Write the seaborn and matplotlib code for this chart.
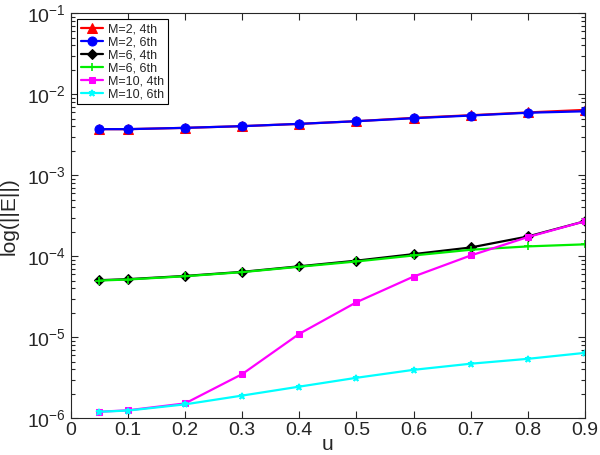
import matplotlib
matplotlib.use("Agg")
import matplotlib.pyplot as plt
import seaborn as sns
import numpy as np
import pandas as pd
from matplotlib.ticker import LogLocator, NullFormatter

u = [0.05, 0.1, 0.2, 0.3, 0.4, 0.5, 0.6, 0.7, 0.8, 0.9]
m2_4th = [3.7e-3, 3.7e-3, 3.84e-3, 4.03e-3, 4.3e-3, 4.64e-3, 5.1e-3, 5.5e-3, 5.95e-3, 6.4e-3]
m2_6th = [3.7e-3, 3.7e-3, 3.84e-3, 4.03e-3, 4.3e-3, 4.64e-3, 5.05e-3, 5.45e-3, 5.9e-3, 6.15e-3]
m6_4th = [5.05e-5, 5.2e-5, 5.7e-5, 6.4e-5, 7.5e-5, 8.8e-5, 1.06e-4, 1.28e-4, 1.75e-4, 2.7e-4]
m6_6th = [5.0e-5, 5.15e-5, 5.65e-5, 6.35e-5, 7.4e-5, 8.6e-5, 1.02e-4, 1.2e-4, 1.32e-4, 1.4e-4]
m10_4th = [1.2e-6, 1.25e-6, 1.52e-6, 3.5e-6, 1.1e-5, 2.7e-5, 5.6e-5, 1.02e-4, 1.72e-4, 2.7e-4]
m10_6th = [1.2e-6, 1.24e-6, 1.48e-6, 1.9e-6, 2.45e-6, 3.15e-6, 3.95e-6, 4.7e-6, 5.4e-6, 6.4e-6]

labels = ["M=2, 4th", "M=2, 6th", "M=6, 4th", "M=6, 6th", "M=10, 4th", "M=10, 6th"]
series = [m2_4th, m2_6th, m6_4th, m6_6th, m10_4th, m10_6th]
colors = ["#ff0000", "#0000ff", "#000000", "#00ee00", "#ff00ff", "#00ffff"]
markers = ["^", "o", "D", "+", "s", "*"]
msizes = [7, 6.5, 5.5, 6, 5, 5]

xticks = [0, 0.1, 0.2, 0.3, 0.4, 0.5, 0.6, 0.7, 0.8, 0.9]
xticklabels = ["0", "0.1", "0.2", "0.3", "0.4", "0.5", "0.6", "0.7", "0.8", "0.9"]

sns.set_style("ticks")
plt.rcParams['font.family'] = ['Liberation Sans', 'DejaVu Sans']

fig = plt.figure(figsize=(6.0, 4.55), dpi=100)
ax = fig.add_axes([0.118, 0.081, 0.857, 0.890])

for lab, ys, c, mk, ms in zip(labels, series, colors, markers, msizes):
    df = pd.DataFrame({"u": u, "err": ys})
    if mk == "D":
        kw = dict(markeredgecolor="black", markerfacecolor="black")
    elif mk in ("+", "*"):
        kw = dict(markeredgecolor=c, markeredgewidth=1.2)
    else:
        kw = dict(markeredgecolor=c, markerfacecolor=c)
    sns.lineplot(data=df, x="u", y="err", ax=ax, color=c, marker=mk,
                 markersize=ms, linewidth=1.6, label=lab, **kw)

ax.set_yscale("log")
ax.set_xlim(0, 0.9)
ax.set_ylim(1e-6, 1e-1)
ax.set_xticks(xticks)
ax.set_xticklabels(xticklabels)
ax.yaxis.set_minor_locator(LogLocator(base=10, subs=np.arange(2, 10)))
ax.yaxis.set_minor_formatter(NullFormatter())
ax.tick_params(which="both", direction="in", top=True, right=True, labelsize=14, width=0.8)
ax.tick_params(axis="x", pad=3)
ax.tick_params(which="major", length=5)
ax.tick_params(which="minor", length=3)
for s in ax.spines.values():
    s.set_linewidth(0.8)
    s.set_visible(True)

ax.set_xlabel("u", fontsize=15, labelpad=-3)
ax.set_ylabel("log(||E||)", fontsize=15, labelpad=6)

leg = ax.legend(loc="upper left", fontsize=9, frameon=True, fancybox=False,
                edgecolor="black", framealpha=1, borderpad=0.3, labelspacing=0.08,
                handlelength=1.8, handletextpad=0.4, borderaxespad=0.5)
leg.get_frame().set_linewidth(0.8)

fig.savefig("out.png", dpi=100)
